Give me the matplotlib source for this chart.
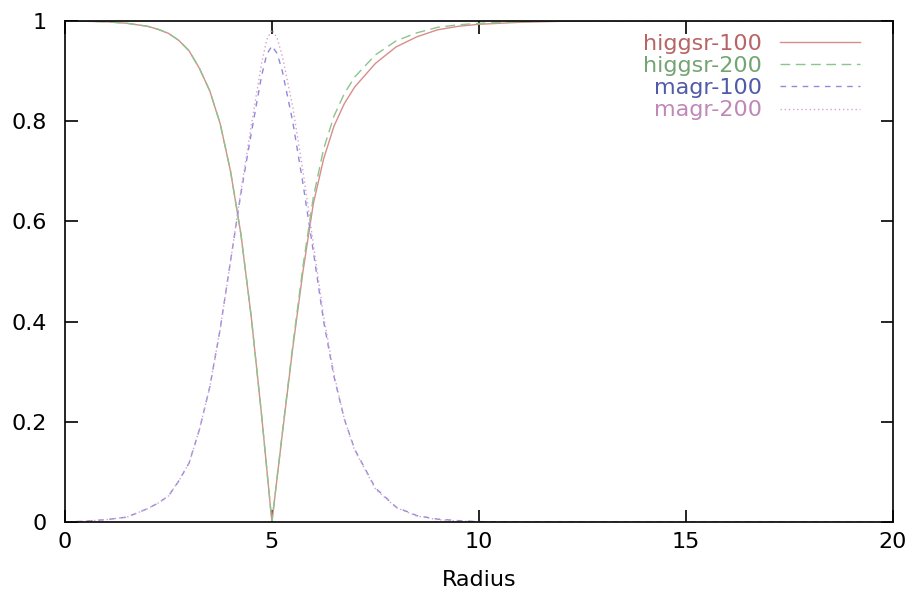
import matplotlib
matplotlib.use("Agg")
import matplotlib.pyplot as plt

# radius grid (denser around the wall at r = 5)
radius = [0, 0.5, 1, 1.5, 2, 2.25, 2.5, 2.75, 3, 3.25, 3.5, 3.75, 4, 4.25, 4.5, 4.75, 4.875,
          5, 5.125, 5.25, 5.5, 5.75, 6, 6.25, 6.5, 6.75, 7, 7.5, 8, 8.5, 9, 9.5, 10,
          11, 12, 13, 14, 15, 16, 17, 18, 19, 20]

higgsr_100 = [0.999, 0.999, 0.998, 0.995, 0.989, 0.983, 0.975, 0.961, 0.940, 0.905, 0.860, 0.795, 0.700, 0.575, 0.410, 0.214, 0.107,
              0.0, 0.088, 0.175, 0.345, 0.500, 0.635, 0.725, 0.790, 0.835, 0.868, 0.915, 0.948, 0.968, 0.982, 0.989, 0.993,
              0.997, 0.999, 1.0, 1.0, 1.0, 1.0, 1.0, 1.0, 1.0, 1.0]
higgsr_200 = [0.999, 0.999, 0.998, 0.995, 0.989, 0.983, 0.975, 0.961, 0.940, 0.905, 0.860, 0.795, 0.700, 0.575, 0.410, 0.214, 0.107,
              0.0, 0.089, 0.178, 0.350, 0.510, 0.648, 0.745, 0.810, 0.855, 0.888, 0.932, 0.960, 0.976, 0.987, 0.992, 0.995,
              0.998, 1.0, 1.0, 1.0, 1.0, 1.0, 1.0, 1.0, 1.0, 1.0]
magr_100 = [0.0, 0.002, 0.005, 0.010, 0.027, 0.038, 0.052, 0.082, 0.118, 0.185, 0.270, 0.385, 0.520, 0.655, 0.775, 0.890, 0.933,
            0.950, 0.935, 0.900, 0.800, 0.675, 0.540, 0.400, 0.290, 0.205, 0.145, 0.068, 0.030, 0.013, 0.006, 0.003, 0.001,
            0.0, 0.0, 0.0, 0.0, 0.0, 0.0, 0.0, 0.0, 0.0, 0.0]
magr_200 = [0.0, 0.002, 0.005, 0.010, 0.027, 0.038, 0.052, 0.082, 0.118, 0.185, 0.270, 0.385, 0.520, 0.660, 0.790, 0.915, 0.962,
            0.982, 0.966, 0.930, 0.830, 0.700, 0.555, 0.410, 0.295, 0.205, 0.143, 0.066, 0.029, 0.012, 0.005, 0.002, 0.001,
            0.0, 0.0, 0.0, 0.0, 0.0, 0.0, 0.0, 0.0, 0.0, 0.0]

labels = ["higgsr-100", "higgsr-200", "magr-100", "magr-200"]
line_colors = ["#d98c8c", "#8cc48c", "#8c8cd9", "#d9a0d0"]
text_colors = ["#b86464", "#74a474", "#4f5aa8", "#c088b8"]
styles = ["-", (0, (7, 4)), (0, (4, 4)), (0, (1, 2))]

plt.rcParams["font.family"] = ["DejaVu Sans"]
plt.rcParams["font.size"] = 16

fig = plt.figure(figsize=(9.14, 5.94), dpi=100)
ax = fig.add_axes([0.071, 0.121, 0.906, 0.844])

series = [higgsr_100, higgsr_200, magr_100, magr_200]
for y, lab, c, ls in zip(series, labels, line_colors, styles):
    ax.plot(radius, y, color=c, linestyle=ls, linewidth=1.0, label=lab)

ax.set_xlim(0, 20)
ax.set_ylim(0, 1)
ax.set_xticks([0, 5, 10, 15, 20])
ax.set_yticks([0, 0.2, 0.4, 0.6, 0.8, 1])
ax.set_yticklabels(["0", "0.2", "0.4", "0.6", "0.8", "1"])
ax.tick_params(direction="in", length=9, width=1.2, top=True, right=True)
ax.tick_params(axis="y", pad=13)
ax.tick_params(axis="x", pad=7)
for s in ax.spines.values():
    s.set_linewidth(1.2)
ax.set_xlabel("Radius", labelpad=13)

leg = ax.legend(loc="upper right", bbox_to_anchor=(0.96, 0.974), frameon=False,
                markerfirst=False, handlelength=3.6, handletextpad=0.8,
                labelspacing=0.1, borderaxespad=0, borderpad=0, fontsize=16)
for t, c in zip(leg.get_texts(), text_colors):
    t.set_color(c)

fig.savefig("out.png", dpi=100)
